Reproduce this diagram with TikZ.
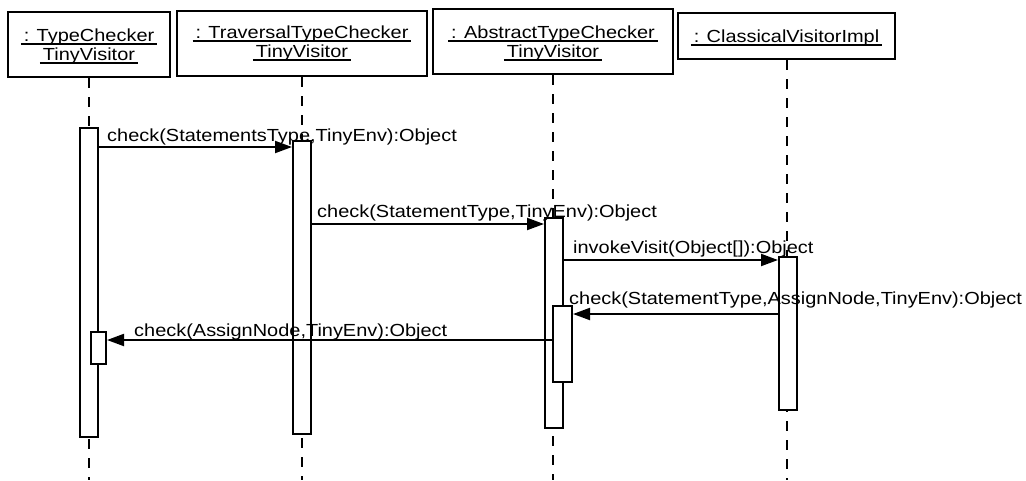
\documentclass[tikz,border=0pt]{standalone}
\usepackage{fontspec}
\setmainfont{Liberation Sans}[FakeStretch=1.14]
\usetikzlibrary{arrows.meta}

% underlined text with the rule reaching a little past both ends
\newcommand\ulbox[1]{\sbox0{#1}\makebox[0pt][l]{\hspace{-3pt}\rule[-3.8pt]{\dimexpr\wd0+6pt\relax}{1.4pt}}\usebox0}

\tikzset{
  headbox/.style={draw, line width=2.6pt, fill=white, inner sep=0pt},
  headtext/.style={anchor=base, inner sep=0pt, font=\fontsize{17.5}{19}\selectfont},
  msgtext/.style={anchor=base west, inner sep=0pt, font=\fontsize{17.5}{19}\selectfont},
  lifeline/.style={line width=1.4pt, dash pattern=on 10pt off 9pt},
  act/.style={draw, line width=2pt, fill=white, inner sep=0pt, minimum width=18pt},
  msg/.style={line width=2pt, -{Triangle[length=17pt,width=12pt]}},
}

\begin{document}
\begin{tikzpicture}[x=1pt, y=-1pt]
\useasboundingbox (0,0) rectangle (1026,480);

% object heads
\node[headbox, minimum width=162pt, minimum height=65pt] (tc) at (89,44.5) {};
\node[headbox, minimum width=250pt, minimum height=65pt] (ttc) at (302,43.5) {};
\node[headbox, minimum width=240pt, minimum height=65pt] (atc) at (553,41.5) {};
\node[headbox, minimum width=217pt, minimum height=46pt] (cvi) at (786.5,36) {};

\node[headtext] (tcA) at (89,41) {\ulbox{: TypeChecker}};
\node[headtext] (tcB) at (89,60) {\ulbox{TinyVisitor}};
\node[headtext] (ttcA) at (302,38) {\ulbox{: TraversalTypeChecker}};
\node[headtext] (ttcB) at (302,57) {\ulbox{TinyVisitor}};
\node[headtext] (atcA) at (553,38) {\ulbox{: AbstractTypeChecker}};
\node[headtext] (atcB) at (553,57) {\ulbox{TinyVisitor}};
\node[headtext] (cviA) at (786.5,42) {\ulbox{: ClassicalVisitorImpl}};

% lifelines
\draw[lifeline] (tc.south -| 89,0) -- (89,480);
\draw[lifeline] (ttc.south -| 302,0) -- (302,480);
\draw[lifeline] (atc.south -| 553,0) -- (553,480);
\draw[lifeline] (cvi.south -| 787,0) -- (787,480);

% activation bars
\node[act, minimum height=309pt] (a1) at (89,282.5) {};
\node[act, minimum width=15pt, minimum height=32pt] (a1n) at (98.5,348) {};
\node[act, minimum height=293pt] (a2) at (302,287.5) {};
\node[act, minimum height=210pt] (a3) at (554,323) {};
\node[act, minimum width=19pt, minimum height=76pt] (a3n) at (562.5,344) {};
\node[act, minimum height=153pt] (a4) at (788,333.5) {};

% message levels
\coordinate (m1) at (0,147);
\coordinate (m2) at (0,224);
\coordinate (m3) at (0,260);
\coordinate (m4) at (0,314);
\coordinate (m5) at (0,340);

% messages
\draw[msg] (a1.east |- m1) -- (a2.west |- m1);
\node[msgtext] (l1) at (107,141) {check(StatementsType,TinyEnv):Object};

\draw[msg] (a2.east |- m2) -- (a3.west |- m2);
\node[msgtext] (l2) at (317,217) {check(StatementType,TinyEnv):Object};

\draw[msg] (a3.east |- m3) -- (a4.west |- m3);
\node[msgtext] (l3) at (573,253) {invokeVisit(Object[]):Object};

\draw[msg] (a4.west |- m4) -- (a3n.east |- m4);
\node[msgtext] (l4) at (569,304) {check(StatementType,AssignNode,TinyEnv):Object};

\draw[msg] (a3n.west |- m5) -- (a1n.east |- m5);
\node[msgtext] (l5) at (134,336) {check(AssignNode,TinyEnv):Object};
\end{tikzpicture}
\end{document}
